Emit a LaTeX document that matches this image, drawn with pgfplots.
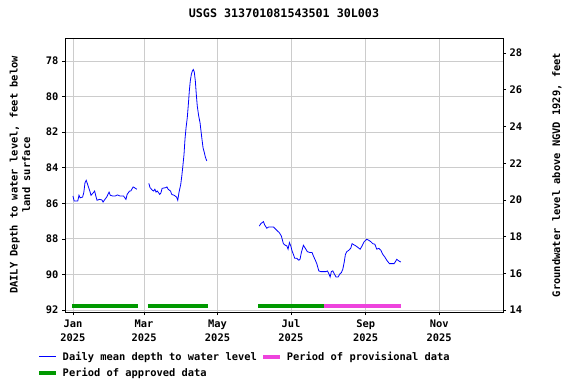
\documentclass[border=0pt]{standalone}
\usepackage{pgfplots}
\pgfplotsset{compat=1.18}
\usepackage{fontspec}
\setmainfont{DejaVu Sans Mono}
\definecolor{dblue}{RGB}{0,0,255}
\definecolor{apgreen}{RGB}{0,153,0}
\definecolor{provpink}{RGB}{238,68,221}
\definecolor{gridgray}{RGB}{204,204,204}
\newcommand{\tf}{\fontsize{10.4}{12.5}\selectfont\bfseries}
\newcommand{\xf}{\fontsize{10.4}{14}\selectfont\bfseries}
\begin{document}
\begin{tikzpicture}
\path[use as bounding box] (0,0) rectangle (576pt,384pt);
\begin{axis}[
  at={(65pt,72pt)}, anchor=south west,
  scale only axis, width=438pt, height=274pt,
  xmin=-6.6, xmax=357,
  ymin=76.71, ymax=92.11, y dir=reverse,
  xtick={0,59,120,181,243,304},
  xticklabels={Jan\\2025,Mar\\2025,May\\2025,Jul\\2025,Sep\\2025,Nov\\2025},
  xticklabel style={align=center, font=\xf, yshift=-1.5pt},
  ytick={78,80,82,84,86,88,90,92},
  yticklabel style={font=\tf},
  /pgf/number format/assume math mode=true,
  grid=major, major grid style={gridgray, line width=0.8pt},
  tick style={black, line width=0.6pt}, major tick length=3pt,
  tick align=outside, xtick pos=bottom, ytick pos=left,
  axis line style={black, line width=1pt},
  title={USGS 313701081543501 30L003},
  title style={font=\fontsize{11.7}{13}\selectfont\bfseries, at={(axis description cs:0.5,1.069)}, anchor=center},
  ylabel={DAILY Depth to water level, feet below\\land surface},
  ylabel style={font=\tf, align=center, at={(axis description cs:-0.103,0.5)}, anchor=center},
  legend columns=2,
  legend style={at={(axis description cs:-0.064,-0.142)}, anchor=north west, draw=none, fill=none, font=\tf, column sep=4pt, row sep=5pt, inner sep=0pt, nodes={inner sep=0.5pt}},
  legend cell align=left,
]
\addlegendimage{dblue, line width=1pt}
\addlegendentry{Daily mean depth to water level}
\addlegendimage{provpink, line width=4pt}
\addlegendentry{Period of provisional data}
\addlegendimage{apgreen, line width=4pt}
\addlegendentry{Period of approved data}
\addplot[apgreen, line width=4pt, forget plot] coordinates {(-0.8,91.8) (54,91.8)};
\addplot[apgreen, line width=4pt, forget plot] coordinates {(62.3,91.8) (112,91.8)};
\addplot[apgreen, line width=4pt, forget plot] coordinates {(153.7,91.8) (208.5,91.8)};
\addplot[provpink, line width=4pt, forget plot] coordinates {(208.5,91.8) (272.4,91.8)};
\addplot[dblue, line width=0.8pt, forget plot] table {
0 85.59
1 85.87
4 85.87
5 85.55
6 85.69
8 85.65
9 85.40
10 84.84
11 84.71
12 84.90
14 85.31
15 85.55
17 85.40
18 85.31
19 85.59
20 85.83
22 85.78
24 85.81
25 85.93
26 85.83
28 85.65
30 85.37
31 85.55
33 85.59
35 85.59
37 85.53
39 85.59
42 85.59
44 85.78
45 85.50
47 85.31
48 85.31
50 85.08
51 85.12
53 85.21
};
\addplot[dblue, line width=0.8pt, forget plot] table {
63 84.88
64 85.12
66 85.27
67 85.31
68 85.21
69 85.37
70 85.31
71 85.40
72 85.50
73 85.42
74 85.16
77 85.12
78 85.08
79 85.21
81 85.31
82 85.50
84 85.55
86 85.65
87 85.83
88 85.40
89.5 84.93
90.3 84.5
91.1 84.0
92.2 83.25
93.0 82.40
93.9 81.75
94.9 81.19
95.8 80.44
96.6 79.69
97.4 79.13
98.3 78.75
99.1 78.57
99.9 78.48
100.7 78.61
101.6 79.13
102.4 79.88
103.2 80.53
104.4 81.10
105.5 81.47
106.3 81.94
107.1 82.40
108.0 82.88
109.1 83.16
109.9 83.40
111.1 83.62
};
\addplot[dblue, line width=0.8pt, forget plot] table {
154.7 87.28
155.9 87.15
157.0 87.09
158.1 87.03
159.2 87.22
160.9 87.40
162.5 87.33
164.2 87.33
166.4 87.33
167.5 87.40
169.2 87.52
171.3 87.65
173.0 87.84
174.7 88.27
176.3 88.36
177.5 88.39
178.6 88.58
179.7 88.21
180.8 88.39
181.9 88.68
183.0 88.87
184.1 89.09
185.8 89.09
187.5 89.20
188.5 89.15
189.6 88.77
191.3 88.36
192.9 88.53
194.6 88.72
196.8 88.77
198.5 88.77
199.6 88.96
201.2 89.20
202.4 89.39
204.1 89.80
205.7 89.84
207.9 89.84
210.1 89.84
211.2 89.80
212.4 89.95
213.5 90.14
214.5 89.84
215.7 89.80
216.8 89.95
218.4 90.14
220.1 90.14
221.8 89.95
222.8 89.90
224.0 89.71
225.1 89.34
226.2 88.87
227.3 88.72
229.0 88.64
230.6 88.53
231.7 88.27
233.4 88.34
235.0 88.40
236.7 88.49
238.4 88.58
240.0 88.40
241.7 88.16
243.9 88.02
245.6 88.08
247.3 88.16
248.9 88.27
250.6 88.30
252.2 88.58
253.9 88.53
255.6 88.64
257.2 88.87
258.9 89.02
260.5 89.20
262.7 89.39
264.4 89.39
266.6 89.39
267.7 89.28
268.8 89.15
270.5 89.24
272.2 89.30
};
\end{axis}
\begin{axis}[
  at={(65pt,72pt)}, anchor=south west,
  scale only axis, width=438pt, height=274pt,
  xmin=-6.6, xmax=357,
  ymin=13.89, ymax=28.82,
  axis x line=none,
  axis y line*=right,
  axis line style={black, line width=1pt},
  ytick={14,16,18,20,22,24,26,28},
  yticklabel style={font=\tf},
  /pgf/number format/assume math mode=true,
  tick style={black, line width=0.6pt}, major tick length=3pt, tick align=outside,
  ylabel={Groundwater level above NGVD 1929, feet},
  ylabel style={font=\tf, at={(axis description cs:1.123,0.5)}, anchor=center, rotate=0},
]
\addplot[draw=none, forget plot] coordinates {(0,20)};
\end{axis}
\end{tikzpicture}
\end{document}
